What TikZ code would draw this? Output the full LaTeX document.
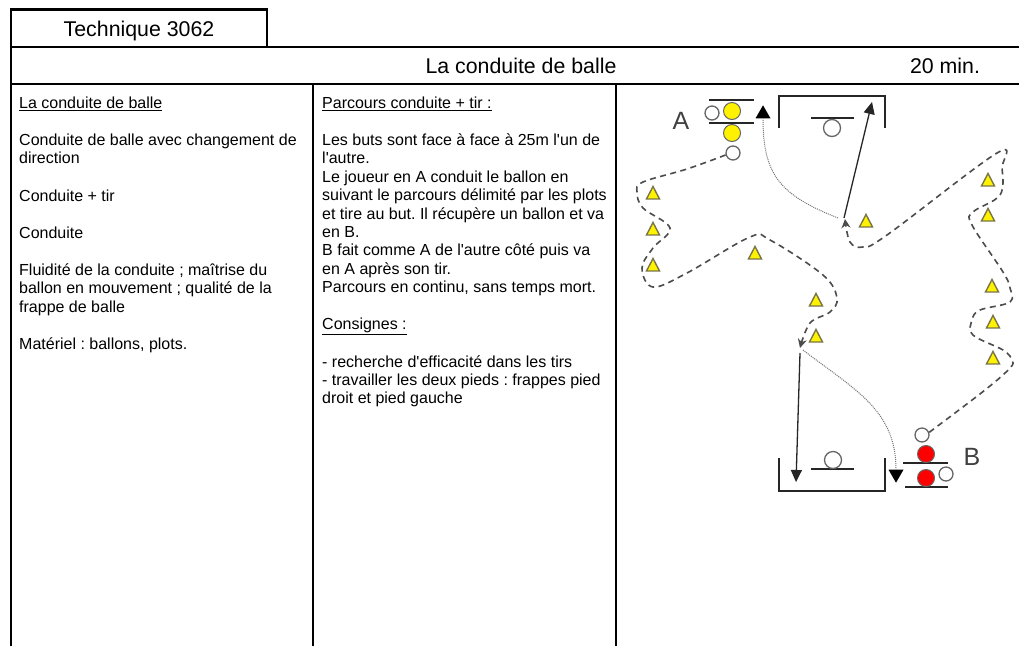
\documentclass[tikz,border=0pt]{standalone}
\usepackage{fontspec}
\setmainfont{Liberation Sans}[Ligatures=TeXOff]
\usepackage{tikz}
\usetikzlibrary{arrows.meta,shapes.geometric}

\tikzset{
  cell/.style={anchor=north west, inner sep=0pt, align=left, font=\fontsize{16}{18.4}\selectfont\frenchspacing},
  head/.style={inner sep=0pt, anchor=base, font=\fontsize{21.33}{24}\selectfont},
  frame/.style={line width=2.4pt},
  ball/.style={circle, draw=black!60, line width=1.3pt, fill=white, minimum size=14pt, inner sep=0pt},
  player/.style={circle, draw=black!60, line width=1pt, minimum size=17pt, inner sep=0pt},
  cone/.style={isosceles triangle, isosceles triangle apex angle=60, isosceles triangle stretches, shape border rotate=90, draw=black!60!yellow, line width=1.4pt, fill=yellow, minimum width=13pt, minimum height=12.5pt, inner sep=0pt},
  tip/.style={isosceles triangle, isosceles triangle apex angle=60, fill=black, minimum size=13pt, inner sep=0pt},
  run/.style={-{Stealth[length=9pt,width=9pt]}, dash pattern=on 6pt off 4.5pt, line width=1.6pt, black!70},
  shot/.style={-{Triangle[length=12pt,width=11pt]}, line width=1.3pt, black!85},
  move/.style={densely dotted, line width=1pt, black!55},
  goal/.style={line width=1.3pt, black!85},
  letter/.style={inner sep=0pt, font=\fontsize{25}{28}\selectfont\color{black!75}}
}

\begin{document}
\begin{tikzpicture}[x=1pt,y=-1pt]
\useasboundingbox (0,0) rectangle (1019,646);
\fill[white] (0,0) rectangle (1019,646);

% Frame
\draw[frame] (11,646) -- (11,9.5) -- (267,9.5) -- (267,47);
\draw[frame] (11,47) -- (267,47);
\draw[line width=1.2pt] (267,47) -- (1019,47);
\draw[frame] (11,84) -- (1019,84);
\draw[frame] (313,84) -- (313,646);
\draw[frame] (616,84) -- (616,646);

% Header
\node[head] (num) at (139,36) {Technique 3062};
\node[head] (title) at (521,73) {La conduite de balle};
\node[head] (time) at (945,73) {20 min.};

% Columns
\node[cell] (left) at (19,96.5) {\underline{La conduite de balle}\\[18.8pt]
Conduite de balle avec changement de\\direction\\[18.8pt]
Conduite + tir\\[18.8pt]
Conduite\\[18.8pt]
Fluidité de la conduite ; maîtrise du\\ballon en mouvement ; qualité de la\\frappe de balle\\[18.8pt]
Matériel : ballons, plots.};
\node[cell] (mid) at (322,96.5) {\underline{Parcours conduite + tir :}\\[18.8pt]
Les buts sont face à face à 25m l'un de\\l'autre.\\
Le joueur en A conduit le ballon en\\suivant le parcours délimité par les plots\\et tire au but. Il récupère un ballon et va\\en B.\\
B fait comme A de l'autre côté puis va\\en A après son tir.\\
Parcours en continu, sans temps mort.\\[18.8pt]
\underline{Consignes :}\\[18.8pt]
- recherche d'efficacité dans les tirs\\
- travailler les deux pieds : frappes pied\\droit et pied gauche};

% Goals
\draw[goal] (779,128) -- (779,96) -- (885,96) -- (885,128);
\draw[goal] (811,118) -- (854,118);
\node[ball, minimum size=17pt] (keeperA) at (832,128) {};
\draw[goal] (779,458) -- (779,491) -- (885,491) -- (885,458);
\draw[goal] (811,469) -- (854,469);
\node[ball, minimum size=17pt] (keeperB) at (833,460) {};

% Group A
\node[letter] (labelA) at (681,121) {A};
\draw[goal] (709,100) -- (754,100);
\draw[goal] (709,123) -- (754,123);
\node[player, fill=yellow] (yellow1) at (732,111) {};
\node[player, fill=yellow] (yellow2) at (732,133) {};
\node[ball] (ball1) at (712,113) {};
\node[ball] (ball2) at (733,153) {};

% Group B
\node[letter] (labelB) at (972,457) {B};
\draw[goal] (903,463) -- (948,463);
\draw[goal] (905,487) -- (948,487);
\node[player, fill=red] (red1) at (926,454) {};
\node[player, fill=red] (red2) at (926,478) {};
\node[ball] (ball3) at (946,474) {};
\node[ball] (ball4) at (922,435) {};

% Cones
\foreach \i/\x/\y in {1/653/195,2/653/231,3/653/267,4/755/255,5/816/302,6/816/338,7/866/223,8/988/182,9/988/217,10/992/288,11/993/324,12/993/360}
  \node[cone] (cone\i) at (\x,\y) {};

% Runs
\coordinate (endA) at (800,348);
\coordinate (endB) at (845,219);
\draw[run] plot[smooth,tension=0.6] coordinates {(ball2.195) (687,169) (643,182) (637,192) (643,208) (670,228) (653,248) (642,268) (653,287) (687,273) (750,237) (770,240) (823,275) (837,298) (830,312) (810,323) (endA)};
\draw[run] plot[smooth,tension=0.6] coordinates {(ball4.20) (985,390) (1010,368) (1012,360) (1003,350) (973,335) (972,320) (980,310) (1010,302) (1010,288) (1003,272) (972,225) (973,212) (1000,195) (1002,168) (997,153) (887,235) (863,247) (850,242) (endB)};

% Shots
\coordinate (startA) at (844,218);
\coordinate (aimA) at (872,102);
\coordinate (startB) at (800,353);
\coordinate (aimB) at (796,482);
\draw[shot] (startA) -- (aimA);
\draw[shot] (startB) -- (aimB);

% Moves
\node[tip, shape border rotate=90] (headA) at (763,114) {};
\node[tip, shape border rotate=-90] (headB) at (896,474) {};
\coordinate (backA) at (838,218);
\coordinate (backB) at (803,350);
\draw[move] (backA) .. controls (780,195) and (763,175) .. (headA);
\draw[move] (backB) .. controls (855,390) and (896,410) .. (headB);
\end{tikzpicture}
\end{document}
